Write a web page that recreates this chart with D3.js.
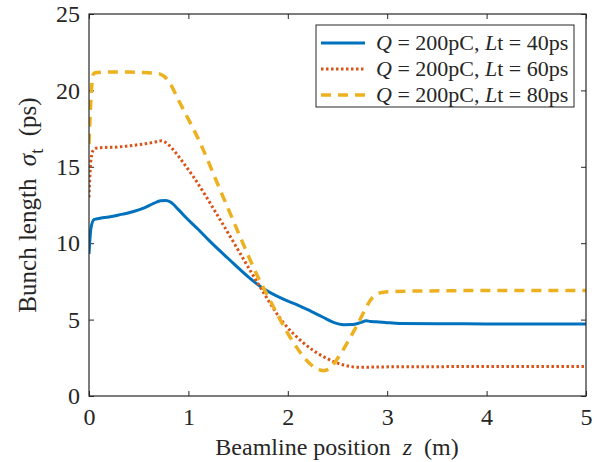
<!DOCTYPE html>
<html><head><meta charset="utf-8">
<script src="https://cdn.jsdelivr.net/npm/d3@7"></script>
<style>body{margin:0;background:#fff}svg{display:block}text{font-family:"Liberation Serif","DejaVu Serif",serif;fill:#262626}</style>
</head><body><div id="chart"></div>
<script>
const xTicks = [0,1,2,3,4,5];
const yTicks = [0,5,10,15,20,25];
const seriesNames = ["40ps","60ps","80ps"];
const seriesColors = ["#0072BD","#D95319","#EDB120"];

const z40 = [0,0.02,0.05,0.1,0.2,0.3,0.44,0.55,0.65,0.72,0.77,0.82,0.9,0.98,1.1,1.22,1.4,1.62,1.75,1.95,2.1,2.2,2.35,2.46,2.56,2.65,2.73,2.79,2.83,2.89,3.0,3.13,3.5,4,4.5,5];
const s40 = [9.3,11.0,11.55,11.62,11.72,11.85,12.06,12.3,12.6,12.78,12.8,12.7,12.2,11.65,10.9,10.1,9.0,7.7,7.05,6.35,5.95,5.65,5.17,4.82,4.67,4.68,4.8,4.92,4.88,4.86,4.8,4.75,4.73,4.72,4.72,4.72];

const z60 = [0,0.02,0.05,0.1,0.3,0.5,0.65,0.73,0.79,0.85,0.95,1.05,1.28,1.52,1.65,1.72,1.95,2.16,2.36,2.56,2.73,2.9,3.5,4,5];
const s60 = [13.0,15.5,16.15,16.25,16.3,16.45,16.6,16.7,16.5,16.1,15.25,14.35,11.96,9.34,7.9,7.15,4.85,3.46,2.57,2.03,1.88,1.9,1.92,1.93,1.93];

const z80 = [0,0.02,0.04,0.06,0.2,0.4,0.6,0.7,0.76,0.82,0.9,1.12,1.32,1.52,1.69,1.82,2.02,2.22,2.3,2.36,2.42,2.49,2.69,2.86,2.93,3.0,3.2,4,5];
const s80 = [16.5,19.5,21.0,21.15,21.2,21.2,21.15,21.1,20.9,20.4,19.37,16.54,13.48,10.43,7.92,6.28,3.88,2.13,1.75,1.66,1.8,2.36,4.54,6.5,6.75,6.82,6.86,6.9,6.9];

const W = 599, H = 462;
const m = {left:89, right:13, top:14, bottom:66};
const iw = W - m.left - m.right, ih = H - m.top - m.bottom;

const svg = d3.select("#chart").append("svg").attr("width",W).attr("height",H);
const g = svg.append("g").attr("transform",`translate(${m.left},${m.top})`);

const x = d3.scaleLinear().domain([0,5]).range([0,iw]);
const y = d3.scaleLinear().domain([0,25]).range([ih,0]);

const axisColor = "#262626";
function styleAxis(sel){
  sel.select(".domain").remove();
  sel.selectAll(".tick line").attr("stroke",axisColor).attr("stroke-width",1);
  sel.selectAll(".tick text").style("font-size","24px").attr("fill",axisColor);
}
// bottom
g.append("g").attr("transform",`translate(0,${ih})`)
  .call(d3.axisBottom(x).tickValues(xTicks).tickSize(-5).tickPadding(12).tickFormat(d3.format("d")))
  .call(styleAxis);
// top
g.append("g").call(d3.axisTop(x).tickValues(xTicks).tickSize(-5).tickFormat(""))
  .call(styleAxis);
// left
g.append("g").call(d3.axisLeft(y).tickValues(yTicks).tickSize(-5).tickPadding(9).tickFormat(d3.format("d")))
  .call(styleAxis);
// right
g.append("g").attr("transform",`translate(${iw},0)`)
  .call(d3.axisRight(y).tickValues(yTicks).tickSize(-5).tickFormat(""))
  .call(styleAxis);

const line = d3.line().x(d=>x(d[0])).y(d=>y(d[1])).curve(d3.curveMonotoneX);
const series = [
  {pts:d3.zip(z40,s40), color:seriesColors[0], dash:null, w:3},
  {pts:d3.zip(z60,s60), color:seriesColors[1], dash:"2.5,2.5", w:3},
  {pts:d3.zip(z80,s80), color:seriesColors[2], dash:"10,7", w:3.5}
];
svg.append("clipPath").attr("id","c").append("rect").attr("width",iw).attr("height",ih);
const plot = g.append("g").attr("clip-path","url(#c)");
series.forEach(s=>{
  plot.append("path").datum(s.pts).attr("d",line).attr("fill","none")
    .attr("stroke",s.color).attr("stroke-width",s.w)
    .attr("stroke-dasharray",s.dash);
});

// box
g.append("rect").attr("width",iw).attr("height",ih).attr("fill","none").attr("stroke",axisColor).attr("stroke-width",1.2);

// legend
const lg = svg.append("g").attr("transform","translate(316,25)");
lg.append("rect").attr("width",258).attr("height",82).attr("fill","#fff").attr("stroke",axisColor).attr("stroke-width",1);
series.forEach((s,i)=>{
  const cy = 18 + i*26;
  lg.append("line").attr("x1",5).attr("x2",49).attr("y1",cy).attr("y2",cy)
    .attr("stroke",s.color).attr("stroke-width",s.w).attr("stroke-dasharray",s.dash);
  const t = lg.append("text").attr("x",60).attr("y",cy+7).style("font-size","22px");
  t.append("tspan").attr("font-style","italic").text("Q");
  t.append("tspan").text(" = 200pC, ");
  t.append("tspan").attr("font-style","italic").text("L");
  t.append("tspan").text("t = " + seriesNames[i]);
});

// axis titles
svg.append("text").attr("x", 337).attr("y", 455).attr("text-anchor","middle")
  .style("font-size","24px")
  .call(t=>{
    t.append("tspan").text("Beamline position\u00a0\u00a0");
    t.append("tspan").attr("font-style","italic").text("z");
    t.append("tspan").text("\u00a0\u00a0(m)");
  });

svg.append("text").attr("transform",`translate(36,${m.top+ih/2}) rotate(-90)`).attr("text-anchor","middle")
  .style("font-size","25px")
  .call(t=>{
    t.append("tspan").text("Bunch length\u00a0\u00a0");
    t.append("tspan").attr("font-style","italic").text("\u03c3");
    t.append("tspan").attr("dy",7).style("font-size","18px").text("t");
    t.append("tspan").attr("dy",-7).text("\u00a0\u00a0(ps)");
  });
</script></body></html>
